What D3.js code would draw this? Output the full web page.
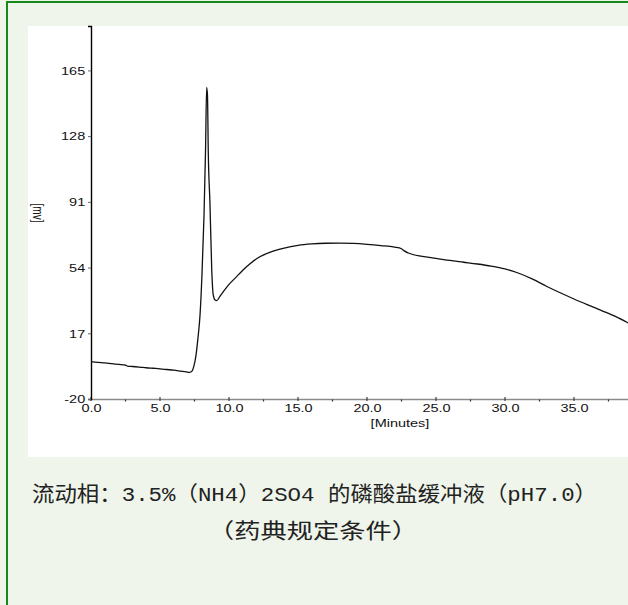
<!DOCTYPE html>
<html>
<head>
<meta charset="utf-8">
<script src="https://cdn.jsdelivr.net/npm/d3@7"></script>
<style>
  body { margin: 0; background: #fff; }
  svg { display: block; }
</style>
</head>
<body>
<div id="chart"></div>
<script>
// chromatogram: minutes / mV
var time = [0.0, 0.5, 1.0, 1.5, 2.0, 2.5, 2.7, 3.0, 3.5, 4.0, 4.5, 5.0, 5.5, 6.0, 6.5, 6.9,
            7.15, 7.32, 7.46, 7.61, 7.75, 7.9, 8.04, 8.19, 8.3, 8.38, 8.44, 8.5,
            8.62, 8.75, 8.86, 8.99, 9.11, 9.35, 9.57, 10.0, 10.5, 11.0, 11.5, 12.0, 13.0, 14.0,
            15.0, 16.0, 17.0, 18.0, 19.0, 20.0, 21.0, 22.0, 22.5, 22.7, 23.0, 24.0, 25.0, 26.0,
            27.0, 28.0, 29.0, 30.0, 31.0, 32.0, 33.0, 34.0, 35.0, 36.0, 37.0, 38.0, 39.0];
var signal = [1.0, 0.6, 0.3, -0.1, -0.5, -0.9, -1.6, -1.7, -2.0, -2.4, -2.7, -3.0, -3.4, -3.8, -4.3, -4.7,
              -5.0, -4.3, -1.4, 4.7, 14.3, 27.2, 49.7, 83.5, 120.0, 155.5, 151.0, 118.4,
              90.2, 52.6, 38.5, 35.7, 35.4, 37.9, 40.2, 44.5, 48.5, 52.5, 56.0, 59.0, 62.7, 65.0,
              66.5, 67.3, 67.7, 67.8, 67.6, 67.1, 66.4, 65.5, 64.6, 63.4, 62.2, 60.3, 59.2, 58.0,
              57.0, 56.0, 54.8, 53.2, 50.8, 47.5, 43.5, 39.8, 36.3, 33.0, 29.8, 26.5, 22.5];

var xTicks = [0, 5, 10, 15, 20, 25, 30, 35];
var xMinorTicks = [2.5, 7.5, 12.5, 17.5, 22.5, 27.5, 32.5, 37.5];
var yTicks = [-20, 17, 54, 91, 128, 165];

var captionLines = ["流动相：3.5%（NH4）2SO4 的磷酸盐缓冲液（pH7.0）", "（药典规定条件）"];

var W = 628, H = 605;

var svg = d3.select("#chart").append("svg")
    .attr("width", W)
    .attr("height", H);

// page background + green frame
svg.append("rect").attr("width", W).attr("height", H).attr("fill", "#eff5eb");
svg.append("rect")
    .attr("x", 7).attr("y", 2)
    .attr("width", W + 20).attr("height", H + 20)
    .attr("fill", "none")
    .attr("stroke", "#17891a")
    .attr("stroke-width", 2);

// white picture of the chromatogram
svg.append("rect")
    .attr("x", 28).attr("y", 26)
    .attr("width", W - 28).attr("height", 431)
    .attr("fill", "#fff");

var x = d3.scaleLinear().domain([0, 40]).range([91, 91 + 40 * 13.8]);
var y = d3.scaleLinear().domain([-20, 190]).range([399, 26]);

// the scanned chart is stretched sideways, so text gets wider too
var stretch = "scale(1.45,1)";

svg.append("clipPath").attr("id", "plotclip")
    .append("rect").attr("x", 91).attr("y", 20).attr("width", W - 91).attr("height", 385);

var arr = time.map(function(t, i) { return {t: t, v: signal[i]}; });

var valueline = d3.line()
    .x(function(d) { return x(d.t); })
    .y(function(d) { return y(d.v); })
    .curve(d3.curveMonotoneX);

// x axis
var xAxis = svg.append("g")
    .attr("transform", "translate(0,399)")
    .call(d3.axisBottom(x).tickValues(xTicks).tickSize(0).tickFormat(d3.format(".1f")));
xAxis.select(".domain").attr("stroke", "#8a8a8a").attr("stroke-width", 1.6);
xAxis.selectAll("text")
    .attr("y", 13).attr("dy", 0)
    .attr("transform", stretch)
    .style("font", "10px 'Liberation Sans', Arial, sans-serif")
    .attr("fill", "#111");

// tick marks drawn by hand through the scale
svg.append("g").selectAll("line.major").data(xTicks).enter().append("line")
    .attr("x1", function(d) { return x(d); }).attr("x2", function(d) { return x(d); })
    .attr("y1", 397).attr("y2", 401)
    .attr("stroke", "#222").attr("stroke-width", 1);
svg.append("g").selectAll("line.minor").data(xMinorTicks).enter().append("line")
    .attr("x1", function(d) { return x(d); }).attr("x2", function(d) { return x(d); })
    .attr("y1", 399.5).attr("y2", 401.5)
    .attr("stroke", "#333").attr("stroke-width", 1.2);

// y axis (plain hyphen for -20, like the original)
var yAxis = svg.append("g")
    .attr("transform", "translate(91,0)")
    .call(d3.axisLeft(y).tickValues(yTicks).tickSize(3).tickPadding(1)
        .tickFormat(function(d) { return String(d); }));
yAxis.select(".domain").attr("stroke", "#000").attr("stroke-width", 1.4);
yAxis.selectAll(".tick line").attr("stroke", "#666");
yAxis.selectAll("text")
    .attr("transform", stretch)
    .attr("dy", "0.38em")
    .style("font", "10px 'Liberation Sans', Arial, sans-serif")
    .attr("fill", "#111");

// trace
svg.append("path")
    .datum(arr)
    .attr("clip-path", "url(#plotclip)")
    .attr("fill", "none")
    .attr("stroke", "#111")
    .attr("stroke-width", 1.3)
    .attr("d", valueline);

// axis titles
svg.append("text")
    .attr("transform", "translate(400,427) " + stretch)
    .attr("text-anchor", "middle")
    .style("font", "10px 'Liberation Sans', Arial, sans-serif")
    .attr("fill", "#111")
    .text("[Minutes]");

svg.append("text")
    .attr("transform", "translate(33,213) " + stretch + " rotate(90)")
    .attr("text-anchor", "middle")
    .style("font", "10px 'Liberation Sans', Arial, sans-serif")
    .attr("fill", "#111")
    .text("[mv]");

// caption under the picture
svg.append("text")
    .attr("x", 32).attr("y", 501)
    .attr("textLength", 565)
    .attr("lengthAdjust", "spacingAndGlyphs")
    .style("font", "21px 'Liberation Mono', 'Noto Sans CJK SC', sans-serif")
    .attr("fill", "#222")
    .text(captionLines[0]);

svg.append("text")
    .attr("x", 208).attr("y", 538)
    .attr("textLength", 210)
    .attr("lengthAdjust", "spacingAndGlyphs")
    .style("font", "21px 'Liberation Mono', 'Noto Sans CJK SC', sans-serif")
    .attr("fill", "#222")
    .text(captionLines[1]);
</script>
</body>
</html>
